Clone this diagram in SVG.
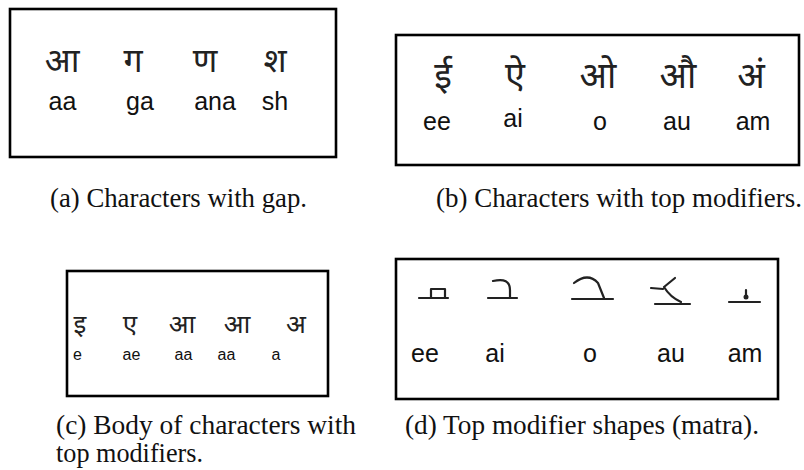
<svg xmlns="http://www.w3.org/2000/svg" width="804" height="470" viewBox="0 0 804 470">
<style>
.box{fill:#fff;stroke:#000;stroke-width:2.6}
.lat{font-family:"Liberation Sans",Arial,sans-serif;fill:#111;text-anchor:middle}
.dev{font-family:"Noto Sans Devanagari","Lohit Devanagari","Mangal","FreeSans","Noto Sans",sans-serif;fill:#222;text-anchor:middle}
.cap{font-family:"Liberation Serif","Times New Roman",serif;font-size:27px;fill:#111}
.mat{fill:none;stroke:#222;stroke-width:2.2;stroke-linecap:round;stroke-linejoin:round}
</style>
<rect width="804" height="470" fill="#fff"/>
<g id="panel-a">
<rect class="box" x="10" y="9" width="326" height="148"/>
<g class="dev" font-size="34">
<text x="62" y="72">आ</text><text x="133" y="72">ग</text><text x="205" y="72">ण</text><text x="275" y="72">श</text>
</g>
<g class="lat" font-size="25">
<text x="62.5" y="110">aa</text><text x="140" y="110">ga</text><text x="215" y="110">ana</text><text x="275" y="110">sh</text>
</g>
<text class="cap" x="50" y="207" textLength="257" lengthAdjust="spacingAndGlyphs">(a) Characters with gap.</text>
</g>
<g id="panel-b">
<rect class="box" x="396" y="35" width="403" height="130"/>
<g class="dev" font-size="36">
<text x="443" y="88">ई</text><text x="515" y="88">ऐ</text><text x="598" y="88">ओ</text><text x="678" y="88">औ</text><text x="751" y="88">अं</text>
</g>
<g class="lat" font-size="25">
<text x="437" y="130">ee</text><text x="513" y="127">ai</text><text x="600" y="130">o</text><text x="677" y="130">au</text><text x="753" y="130">am</text>
</g>
<text class="cap" x="436" y="207" textLength="366" lengthAdjust="spacingAndGlyphs">(b) Characters with top modifiers.</text>
</g>
<g id="panel-c">
<rect class="box" x="67" y="271" width="261" height="125"/>
<g class="dev" font-size="26">
<text x="80" y="333">इ</text><text x="130" y="333">ए</text><text x="182" y="333">आ</text><text x="237" y="333">आ</text><text x="296" y="333">अ</text>
</g>
<g class="lat" font-size="16">
<text x="77.5" y="360">e</text><text x="131.5" y="360">ae</text><text x="183.5" y="360">aa</text><text x="226.5" y="360">aa</text><text x="276" y="360">a</text>
</g>
<text class="cap" x="56" y="434" textLength="300" lengthAdjust="spacingAndGlyphs">(c) Body of characters with</text>
<text class="cap" x="56" y="462" textLength="147" lengthAdjust="spacingAndGlyphs">top modifiers.</text>
</g>
<g id="panel-d">
<rect class="box" x="396" y="259" width="382" height="140"/>
<g class="mat">
<path d="M419,298 H448 M431,298 V289 H445 V297"/>
<path d="M488,298 H517 M493,281 Q510,277 510,290 V297"/>
<path d="M572,299 H613 M574,283 Q588,272 598,283 L604,298"/>
<path d="M655,304 H690 M651,288 L663,289 M664,287 L675,278 M664,287 Q670,297 681,302"/>
<path d="M729,302 H760 M746,290 V296"/>
</g>
<circle cx="746" cy="297" r="2.5" fill="#222"/>
<g class="lat" font-size="25">
<text x="425" y="362">ee</text><text x="495" y="362">ai</text><text x="590" y="362">o</text><text x="671" y="362">au</text><text x="745" y="362">am</text>
</g>
<text class="cap" x="405" y="434" textLength="354" lengthAdjust="spacingAndGlyphs">(d) Top modifier shapes (matra).</text>
</g>
</svg>
